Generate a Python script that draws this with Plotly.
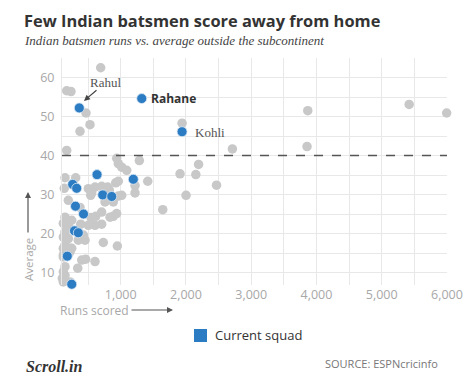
import plotly.graph_objects as go

# ---- data ----
others_runs = [693, 172, 238, 468, 376, 529, 1940, 172, 2711, 3866, 3855, 5420, 5995,
               938, 1285, 963, 1015, 1092, 2193, 1909, 2151, 2468, 2001, 1644, 1414,
               1219, 1219, 963, 923, 146, 310, 135, 503, 606, 708, 800, 825, 540, 1015,
               759, 886, 197, 95, 708, 617, 544, 938, 886, 836, 146, 249, 197, 95, 120,
               146, 95, 120, 197, 350, 453, 503, 606, 708, 733, 948, 146, 120, 223, 120,
               402, 463, 606, 341, 146, 120, 146, 105, 120, 223, 387, 427, 555, 249, 223,
               120, 963, 376]
others_avg = [62.5, 56.6, 56.4, 50.9, 46.2, 47.9, 48.3, 41.3, 41.7, 51.5, 42.3, 53.1, 50.9,
              39.3, 38.7, 37.9, 37.0, 36.2, 37.7, 35.3, 35.1, 32.4, 29.8, 26.1, 33.4,
              30.4, 32.3, 33.4, 33.0, 34.3, 34.3, 31.6, 31.5, 31.9, 32.1, 31.9, 31.1, 29.8, 29.8,
              28.1, 28.1, 28.5, 25.9, 25.5, 24.4, 24.1, 25.1, 24.4, 24.2, 24.2, 23.4, 22.1, 22.1, 22.6,
              20.4, 21.3, 19.1, 18.7, 18.3, 18.3, 22.1, 22.1, 22.4, 17.7, 16.8, 17.0, 16.2, 16.2, 14.0,
              13.2, 13.4, 12.8, 11.1, 11.5, 10.2, 9.3, 8.5, 7.6, 7.6, 22.4, 19.6, 30.4, 16.2, 15.3,
              14.5, 29.6, 26.7]

squad_runs = [365, 1322, 1940, 637, 1193, 264, 325, 724, 862, 307, 430, 292, 350, 181, 249]
squad_avg = [52.2, 54.6, 46.1, 35.1, 33.9, 32.6, 31.6, 29.9, 29.5, 27.0, 25.0, 20.7, 20.2, 14.2, 7.0]

x_ticks = [1000, 2000, 3000, 4000, 5000, 6000]
y_ticks = [10, 20, 30, 40, 50, 60]
threshold = 40

W, H = 474, 384
ML, MR, MT, MB = 62, 27, 58, 99
PW, PH = W - ML - MR, H - MT - MB


def px(x):
    return (x - ML) / PW


def py(y):
    return (H - MB - y) / PH


GRAY = "#c8c8c8"
BLUE = "#2b7cc2"
GRID = "#e8e8e8"
TICK = "#a8a8a8"

fig = go.Figure()
fig.add_trace(go.Scatter(x=others_runs, y=others_avg, mode="markers",
                         marker=dict(size=9.5, color=GRAY, line=dict(width=0)),
                         cliponaxis=False, showlegend=False, hoverinfo="skip"))
fig.add_trace(go.Scatter(x=squad_runs, y=squad_avg, mode="markers",
                         marker=dict(size=10, color=BLUE, line=dict(width=0.8, color="#dde9f5")),
                         cliponaxis=False, showlegend=False, hoverinfo="skip"))

fig.add_shape(type="line", xref="paper", x0=0, x1=1, yref="y", y0=threshold, y1=threshold,
              line=dict(color="#555555", width=1.3, dash="dash"))

ann = []
# point labels
ann.append(dict(x=759, y=58.6, xref="x", yref="y", text="Rahul", showarrow=False,
                font=dict(family="Liberation Serif", size=13, color="#555")))
ann.append(dict(x=437, y=54.0, xref="x", yref="y", text="", showarrow=True,
                ax=14, ay=-12, arrowhead=2, arrowsize=1, arrowwidth=1.2, arrowcolor="#444"))
ann.append(dict(x=1434, y=54.6, xref="x", yref="y", text="<b>Rahane</b>", showarrow=False,
                xanchor="left", font=dict(family="Open Sans", size=12, color="#333")))
ann.append(dict(x=2108, y=45.9, xref="x", yref="y", text="Kohli", showarrow=False,
                xanchor="left", font=dict(family="Liberation Serif", size=13, color="#555")))

# title / subtitle
ann.append(dict(x=px(22), y=py(20), xref="paper", yref="paper", xanchor="left", yanchor="middle",
                text="<b>Few Indian batsmen score away from home</b>", showarrow=False,
                font=dict(family="Open Sans", size=16.4, color="#333")))
ann.append(dict(x=px(22), y=py(40), xref="paper", yref="paper", xanchor="left", yanchor="middle",
                text="<i>Indian batsmen runs vs. average outside the subcontinent</i>", showarrow=False,
                font=dict(family="Liberation Serif", size=13, color="#444")))

# axis titles
ann.append(dict(x=px(58), y=py(310), xref="paper", yref="paper", xanchor="left", yanchor="middle",
                text="Runs scored", showarrow=False,
                font=dict(family="Open Sans", size=12, color=TICK)))
ann.append(dict(x=px(173), y=py(310), xref="paper", yref="paper", text="", showarrow=True,
                ax=-43, ay=0, arrowhead=2, arrowsize=1, arrowwidth=1.2, arrowcolor="#555"))
ann.append(dict(x=px(28), y=py(260), xref="paper", yref="paper", textangle=-90,
                xanchor="center", yanchor="middle",
                text="Average", showarrow=False,
                font=dict(family="Open Sans", size=11.5, color=TICK)))
ann.append(dict(x=px(28), y=py(192), xref="paper", yref="paper", text="", showarrow=True,
                ax=0, ay=42, arrowhead=2, arrowsize=1, arrowwidth=1.2, arrowcolor="#555"))

# legend
fig.add_shape(type="rect", xref="paper", yref="paper", x0=px(194), x1=px(207), y0=py(342), y1=py(329),
              fillcolor=BLUE, line=dict(width=0))
ann.append(dict(x=px(213), y=py(335), xref="paper", yref="paper", xanchor="left", yanchor="middle",
                text="Current squad", showarrow=False,
                font=dict(family="Open Sans", size=13, color="#333")))

# footer
ann.append(dict(x=px(24), y=py(366), xref="paper", yref="paper", xanchor="left", yanchor="middle",
                text="<b><i>Scroll.in</i></b>", showarrow=False,
                font=dict(family="Liberation Serif", size=16, color="#333")))
ann.append(dict(x=px(440), y=py(363), xref="paper", yref="paper", xanchor="right", yanchor="middle",
                text="SOURCE: ESPNcricinfo", showarrow=False,
                font=dict(family="Open Sans", size=11, color="#777")))

fig.update_layout(
    width=W, height=H, margin=dict(l=ML, r=MR, t=MT, b=MB),
    paper_bgcolor="white", plot_bgcolor="white",
    annotations=ann, showlegend=False,
    font=dict(family="Open Sans"),
)
fig.update_xaxes(range=[100, 6000], tickvals=x_ticks,
                 ticktext=[f"{v:,}" for v in x_ticks],
                 showgrid=True, gridcolor=GRID, gridwidth=1,
                 minor=dict(dtick=500, tick0=0, showgrid=True, gridcolor=GRID, gridwidth=1),
                 zeroline=False, showline=False, ticks="",
                 tickfont=dict(family="Open Sans", size=12.5, color=TICK), fixedrange=True)
fig.update_yaxes(range=[6.8, 65], tickvals=y_ticks,
                 showgrid=True, gridcolor=GRID, gridwidth=1,
                 minor=dict(dtick=5, tick0=0, showgrid=True, gridcolor=GRID, gridwidth=1),
                 zeroline=False, showline=True, linecolor=GRID, mirror=False, ticks="",
                 ticklabelstandoff=4,
                 tickfont=dict(family="Open Sans", size=12.5, color=TICK), fixedrange=True)

fig.write_html("out.html")
